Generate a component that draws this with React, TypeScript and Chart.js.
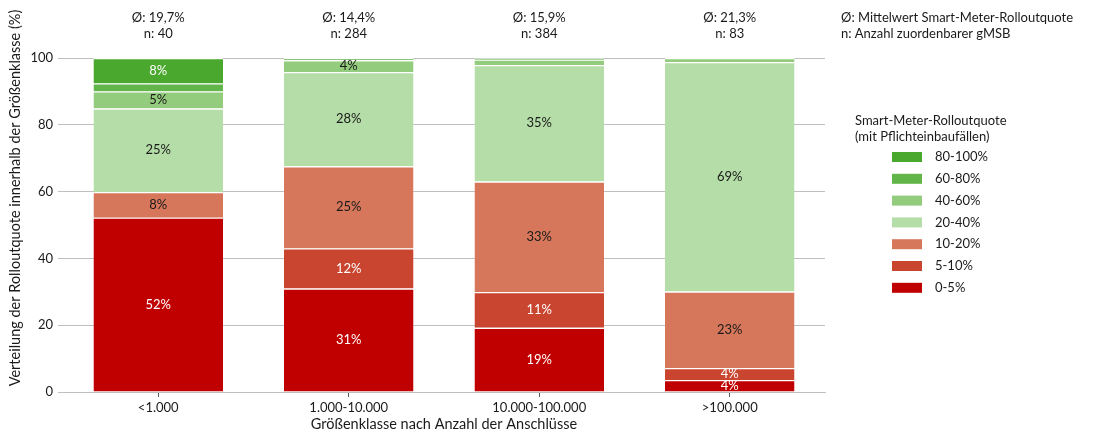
import { useEffect, useRef } from 'react';
import { Chart, registerables } from 'chart.js';

Chart.register(...registerables);

const categories = ['<1.000', '1.000-10.000', '10.000-100.000', '>100.000'];
const seriesLabels = ['0-5%', '5-10%', '10-20%', '20-40%', '40-60%', '60-80%', '80-100%'];
const seriesColors = ['#c00000', '#c9452f', '#d6775b', '#b5dda8', '#93cc7d', '#62b548', '#4aa82e'];
const labelColors = ['#ffffff', '#ffffff', '#1a1a1a', '#1a1a1a', '#1a1a1a', '#1a1a1a', '#ffffff'];

const s0_5 = [52.2, 31.0, 19.2, 3.6];
const s5_10 = [0, 12.0, 10.7, 3.6];
const s10_20 = [7.7, 24.6, 33.1, 22.9];
const s20_40 = [25.0, 28.2, 34.9, 68.7];
const s40_60 = [5.1, 3.5, 1.6, 1.2];
const s60_80 = [2.4, 0.7, 0.5, 0];
const s80_100 = [7.6, 0, 0, 0];
const seriesValues = [s0_5, s5_10, s10_20, s20_40, s40_60, s60_80, s80_100];

const meanLabels = ['Ø: 19,7%', 'Ø: 14,4%', 'Ø: 15,9%', 'Ø: 21,3%'];
const nLabels = ['n: 40', 'n: 284', 'n: 384', 'n: 83'];
const yTicks = [0, 20, 40, 60, 80, 100];

const noteLines = ['Ø: Mittelwert Smart-Meter-Rolloutquote', 'n: Anzahl zuordenbarer gMSB'];
const legendTitle = ['Smart-Meter-Rolloutquote', '(mit Pflichteinbaufällen)'];
const yTitle = 'Verteilung der Rolloutquote innerhalb der Größenklasse (%)';
const xTitle = 'Größenklasse nach Anzahl der Anschlüsse';

const FONT_FAMILY = 'Lato, "Open Sans", sans-serif';
const FS = 13;
const FS_TITLE = 14.5;
const TEXT = '#1a1a1a';

const overlayPlugin = {
  id: 'overlay',
  afterDatasetsDraw(chart: any) {
    const ctx = chart.ctx;
    ctx.save();
    ctx.font = `${FS}px ${FONT_FAMILY}`;
    ctx.textAlign = 'center';
    ctx.textBaseline = 'middle';
    chart.data.datasets.forEach((ds: any, di: number) => {
      const meta = chart.getDatasetMeta(di);
      meta.data.forEach((el: any, i: number) => {
        const v = ds.data[i];
        if (v < 3) return;
        const yc = (el.y + el.base) / 2;
        ctx.fillStyle = labelColors[di];
        ctx.fillText(Math.round(v) + '%', el.x, yc);
      });
    });
    ctx.restore();
  },
  afterDraw(chart: any) {
    const ctx = chart.ctx;
    const area = chart.chartArea;
    const xs = chart.scales.x;
    ctx.save();
    ctx.font = `${FS}px ${FONT_FAMILY}`;
    ctx.fillStyle = TEXT;
    ctx.textBaseline = 'middle';
    ctx.textAlign = 'center';
    categories.forEach((_, i) => {
      const x = xs.getPixelForValue(i);
      ctx.fillText(meanLabels[i], x, area.top - 40);
      ctx.fillText(nLabels[i], x, area.top - 24);
    });
    ctx.textAlign = 'left';
    ctx.fillText(noteLines[0], 841, 18);
    ctx.fillText(noteLines[1], 841, 34);
    ctx.fillText(legendTitle[0], 855, 121);
    ctx.fillText(legendTitle[1], 855, 137);
    for (let k = 0; k < seriesLabels.length; k++) {
      const di = seriesLabels.length - 1 - k;
      const y = 157 + k * 21.8;
      ctx.fillStyle = seriesColors[di];
      ctx.fillRect(892, y - 5, 30, 10);
      ctx.fillStyle = TEXT;
      ctx.fillText(seriesLabels[di], 935, y);
    }
    ctx.font = `${FS_TITLE}px ${FONT_FAMILY}`;
    ctx.translate(15, 198);
    ctx.rotate(-Math.PI / 2);
    ctx.textAlign = 'center';
    ctx.fillText(yTitle, 0, 0);
    ctx.restore();
  },
};

export default function App() {
  const ref = useRef<HTMLCanvasElement>(null);
  useEffect(() => {
    document.body.style.margin = '0';
    const font = { family: FONT_FAMILY, size: FS };
    const chart = new Chart(ref.current!, {
      type: 'bar',
      data: {
        labels: categories,
        datasets: seriesValues.map((vals, di) => ({
          label: seriesLabels[di],
          data: vals,
          backgroundColor: seriesColors[di],
          borderColor: '#ffffff',
          borderWidth: { top: 1.2, bottom: 0, left: 0, right: 0 },
          borderSkipped: false,
          barPercentage: 0.68,
          categoryPercentage: 1,
        })),
      },
      options: {
        responsive: false,
        animation: false,
        layout: { padding: { top: 58, right: 281, left: 0, bottom: 0 } },
        plugins: { legend: { display: false }, tooltip: { enabled: false } },
        scales: {
          x: {
            stacked: true,
            grid: { display: true, drawOnChartArea: false, drawTicks: true, tickLength: 5, offset: false, color: '#595959' },
            border: { display: true, color: '#bfbfbf' },
            ticks: { font, color: TEXT, padding: 3 },
            title: { display: true, text: xTitle, font: { family: FONT_FAMILY, size: FS_TITLE }, color: TEXT, padding: { top: 0, bottom: 1 } },
            afterFit: (s: any) => { s.height = 42; },
          },
          y: {
            stacked: true,
            min: 0,
            max: 100,
            afterBuildTicks: (s: any) => { s.ticks = yTicks.map((v) => ({ value: v })); },
            grid: { color: '#bfbfbf', tickLength: 5 },
            border: { display: false },
            ticks: { font, color: TEXT, padding: 5 },
            afterFit: (s: any) => { s.width = 63; },
          },
        },
      },
      plugins: [overlayPlugin],
    } as any);
    return () => chart.destroy();
  }, []);
  return (
    <div style={{ width: 1106, height: 434 }}>
      <canvas ref={ref} width={1106} height={434} style={{ width: 1106, height: 434 }} />
    </div>
  );
}
